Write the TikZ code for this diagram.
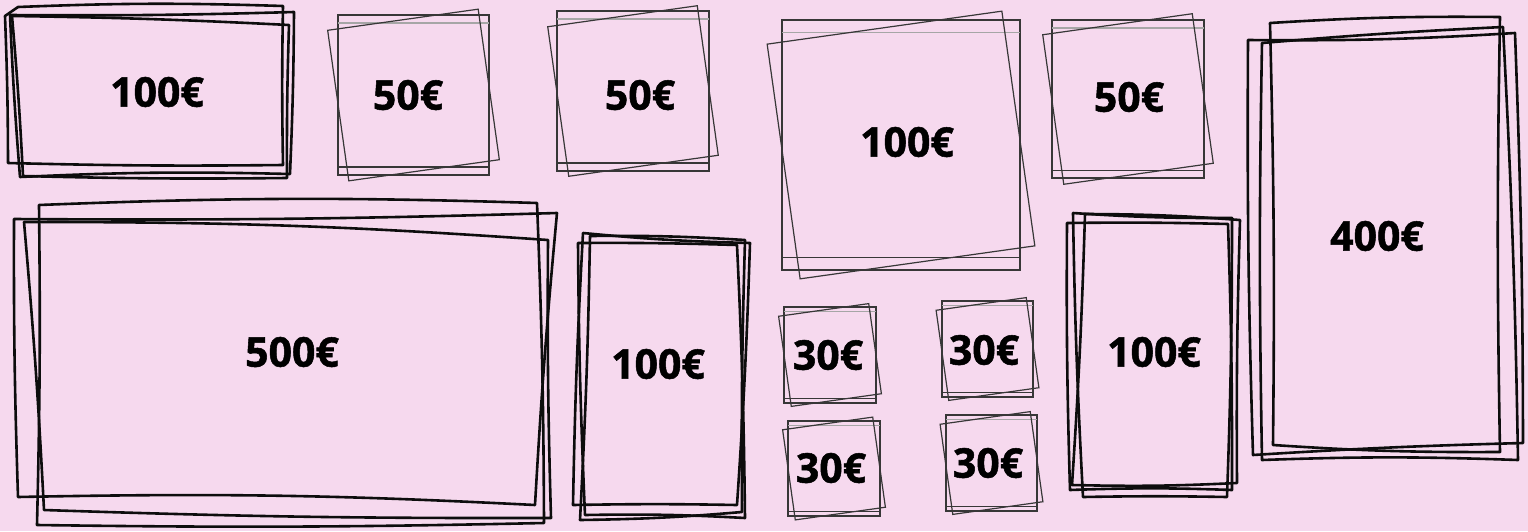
\documentclass[tikz,border=0pt]{standalone}
\usepackage{fontspec}
\setmainfont{Open Sans}[BoldFeatures={FakeBold=1.3}]
\definecolor{bgpink}{RGB}{246,217,238}
\definecolor{inkgray}{RGB}{55,55,55}
\tikzset{
  price/.style={font=\fontsize{20.5}{24}\selectfont\bfseries, inner sep=0pt},
  sketch/.style={draw=black!95, line width=1.3pt, line join=round, line cap=round},
  frame/.style={draw=inkgray, line width=0.6pt},
  faint/.style={draw=black!35, line width=0.6pt}
}
\begin{document}
\begin{tikzpicture}[x=0.5pt, y=-0.5pt]
  \useasboundingbox (0,0) rectangle (1528,531);
  \fill[bgpink] (0,0) rectangle (1528,531);
  % hand drawn bills
  \draw[sketch] (18,7) to[bend left=2] (283,6) to[bend right=1] (283,165) to[bend left=1] (8,163) to[bend right=1] (5,16) -- (18,7);
  \draw[sketch] (10,15) to[bend right=1] (294,12) to[bend left=1] (290,174) to[bend right=2] (20,177) to[bend left=1] (10,15);
  \draw[sketch] (12,16) to[bend left=1] (289,25) to[bend right=1] (287,178) to[bend left=1] (23,176) to[bend right=1] (12,16);
  \draw[sketch] (39,205) to[bend left=2] (537,203) to[bend left=1] (544,523) to[bend left=1] (37,525) to[bend right=1] (39,205);
  \draw[sketch] (14,219) to[bend right=1] (557,213) to[bend right=1] (535,505) to[bend right=2] (18,497) to[bend left=1] (14,219);
  \draw[sketch] (24,222) to[bend left=2] (548,240) to[bend right=1] (551,518) to[bend left=1] (44,510) to[bend right=1] (24,222);
  \draw[sketch] (590,236) to[bend left=2] (745,240) to[bend right=1] (742,512) to[bend left=2] (580,520) to[bend right=1] (590,236);
  \draw[sketch] (583,233) to[bend right=2] (750,243) to[bend left=1] (737,505) to[bend right=1] (573,505) to[bend left=1] (583,233);
  \draw[sketch] (578,243) to[bend left=1] (737,245) to[bend left=1] (745,518) to[bend right=2] (585,515) to[bend left=1] (578,243);
  \draw[sketch] (1085,214) to[bend left=2] (1240,220) to[bend right=1] (1237,483) to[bend left=2] (1072,485) to[bend right=1] (1085,214);
  \draw[sketch] (1073,213) to[bend right=2] (1232,218) to[bend left=1] (1227,497) to[bend right=1] (1083,497) to[bend left=1] (1073,213);
  \draw[sketch] (1067,223) to[bend left=1] (1228,224) to[bend left=1] (1232,490) to[bend right=2] (1070,490) to[bend left=1] (1067,223);
  \draw[sketch] (1270,23) to[bend left=2] (1500,17) to[bend right=1] (1500,452) to[bend left=2] (1273,445) to[bend right=1] (1270,23);
  \draw[sketch] (1248,40) to[bend right=2] (1515,33) to[bend left=1] (1523,443) to[bend right=1] (1253,455) to[bend left=1] (1248,40);
  \draw[sketch] (1262,43) to[bend left=1] (1503,27) to[bend left=1] (1518,460) to[bend right=2] (1262,460) to[bend left=1] (1262,43);
  % tilted squares
  \foreach \cx/\cy/\w/\h/\s in {413.5/95/151/160/152, 633/91/152/160/151, 901/145/238/250/237,
      1128/99/152/158/151, 830/355/92/96/91, 987.5/349/91/96/91, 834/468.5/92/95/91, 991.5/463/91/96/91}{
    \draw[frame] (\cx-\w/2,\cy-\h/2) rectangle (\cx+\w/2,\cy+\h/2);
    \draw[faint] (\cx-\w/2,\cy-0.45*\h) -- (\cx+\w/2,\cy-0.45*\h);
    \draw[frame] (\cx-\w/2,\cy+0.45*\h) -- (\cx+\w/2,\cy+0.45*\h);
    \draw[frame, rotate around={8:(\cx,\cy)}] (\cx-\s/2,\cy-\s/2) rectangle (\cx+\s/2,\cy+\s/2);
  }
  % amounts
  \node[price] (n100a) at (157,92) {100€};
  \node[price] (n50a) at (408,95) {50€};
  \node[price] (n50b) at (640,95) {50€};
  \node[price] (n100b) at (907,142) {100€};
  \node[price] (n50c) at (1129,97) {50€};
  \node[price] (n400) at (1377,236) {400€};
  \node[price] (n500) at (292,352) {500€};
  \node[price] (n100c) at (658,364) {100€};
  \node[price] (n30a) at (828,355) {30€};
  \node[price] (n30b) at (984,350) {30€};
  \node[price] (n30c) at (831,468) {30€};
  \node[price] (n30d) at (988,463) {30€};
  \node[price] (n100d) at (1154,352) {100€};
\end{tikzpicture}
\end{document}
